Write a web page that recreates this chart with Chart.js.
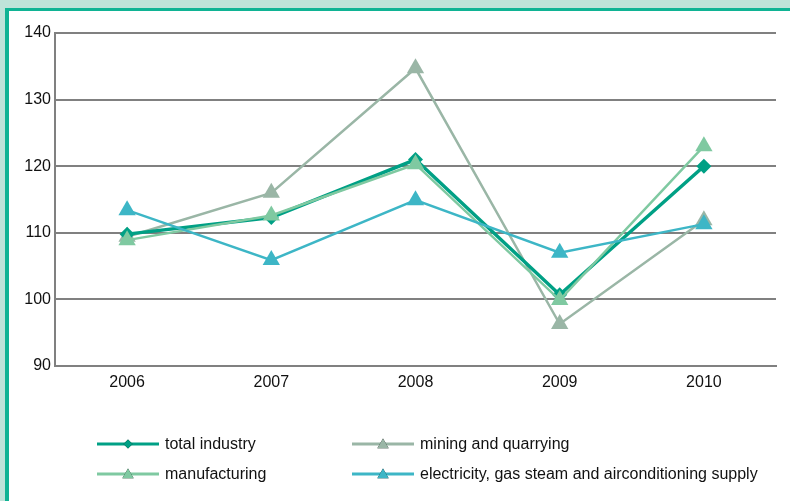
<!DOCTYPE html>
<html>
<head>
<meta charset="utf-8">
<script src="https://cdn.jsdelivr.net/npm/chart.js@4/dist/chart.umd.min.js"></script>
<style>
  html, body { margin:0; padding:0; }
  body { width:790px; height:501px; background:#bfe3d9; position:relative; overflow:hidden; font-family:"Liberation Sans", Arial, sans-serif; }
  #panel { position:absolute; left:5px; top:8px; right:0; bottom:0; background:#fff; border-left:4px solid #10b394; border-top:3px solid #10b394; }
  #wrap { position:absolute; left:9px; top:11px; width:781px; height:490px; }
</style>
</head>
<body>
<div id="panel"></div>
<div id="wrap"><canvas id="chart"></canvas></div>
<script>
// Data
const years = ['2006', '2007', '2008', '2009', '2010'];
const totalIndustry = [109.8, 112.3, 121.0, 100.7, 120.0];
const mining = [109.4, 116.0, 134.7, 96.3, 111.9];
const manufacturing = [108.9, 112.6, 120.3, 99.9, 123.0];
const electricity = [113.4, 105.9, 114.9, 107.0, 111.3];
const seriesNames = ['total industry', 'mining and quarrying', 'manufacturing', 'electricity, gas steam and airconditioning supply'];
const yMin = 90, yMax = 140, yStep = 10;

const colors = { total:'#00a085', mining:'#9ab6a6', manuf:'#7fc9a1', elec:'#3db6c6' };
const FONT = '"Liberation Sans", Arial, sans-serif';

// legend drawn on canvas in two columns under the plot
const legendPlugin = {
  id:'gridLegend',
  afterDraw(chart){
    const ctx = chart.ctx;
    const cols = [88, 343], rows = [433, 463], lineLen = 62;
    chart.data.datasets.forEach((ds, k)=>{
      const x = cols[k % 2], y = rows[Math.floor(k / 2)];
      ctx.save();
      ctx.strokeStyle = ds.borderColor; ctx.lineWidth = 3;
      ctx.beginPath(); ctx.moveTo(x, y); ctx.lineTo(x + lineLen, y); ctx.stroke();
      Chart.helpers.drawPoint(ctx, { pointStyle: ds.pointStyle, rotation:0, borderWidth:0, radius: ds.pointStyle === 'rectRot' ? 4.5 : 6.5 }, x + lineLen/2, y + (ds.pointStyle === 'triangle' ? 1 : 0));
      ctx.fillStyle = ds.borderColor; ctx.fill();
      ctx.fillStyle = '#111'; ctx.font = '16px ' + FONT;
      ctx.textBaseline = 'middle'; ctx.textAlign = 'left';
      ctx.fillText(ds.label, x + lineLen + 6, y + 1);
      ctx.restore();
    });
  }
};

function line(label, data, color, style, radius, width, order){
  return { label, data, borderColor:color, backgroundColor:color, pointBackgroundColor:color, pointBorderColor:color,
    pointStyle:style, pointRadius:radius, pointHoverRadius:radius, pointBorderWidth:0, borderWidth:width, tension:0, order };
}

new Chart(document.getElementById('chart').getContext('2d'), {
  type:'line',
  data:{
    labels: years,
    datasets:[
      line(seriesNames[0], totalIndustry, colors.total, 'rectRot', 7.5, 3.5, 3),
      line(seriesNames[1], mining, colors.mining, 'triangle', 10, 2.5, 4),
      line(seriesNames[2], manufacturing, colors.manuf, 'triangle', 10, 2.5, 2),
      line(seriesNames[3], electricity, colors.elec, 'triangle', 10, 2.5, 1)
    ]
  },
  options:{
    responsive:true, maintainAspectRatio:false, animation:false,
    layout:{ padding:{ top:22, right:14, bottom:0, left:0 } },
    plugins:{ legend:{ display:false }, tooltip:{ enabled:false } },
    scales:{
      x:{
        offset:true,
        grid:{ display:false, drawTicks:false },
        border:{ display:true, color:'#808080', width:2 },
        ticks:{ color:'#111', font:{ size:16, family:FONT }, padding:7, maxRotation:0 },
        afterFit(s){ s.height = 135; }
      },
      y:{
        min:yMin, max:yMax,
        grid:{ color:'#808080', lineWidth:2, drawTicks:false },
        border:{ display:true, color:'#808080', width:2 },
        ticks:{ stepSize:yStep, color:'#111', font:{ size:16, family:FONT }, padding:4 },
        afterFit(s){ s.width = 46; }
      }
    }
  },
  plugins:[legendPlugin]
});
</script>
</body>
</html>
